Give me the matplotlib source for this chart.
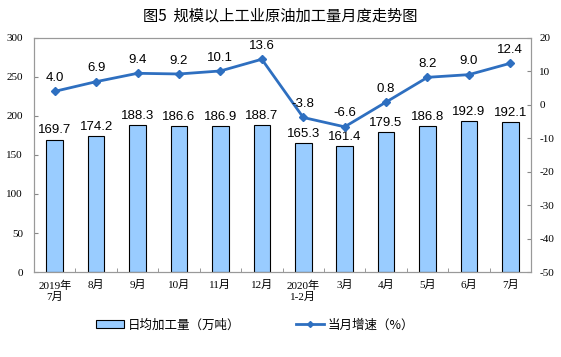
import matplotlib
matplotlib.use('Agg')
import matplotlib.pyplot as plt
import numpy as np
from matplotlib.patches import Patch
from matplotlib.lines import Line2D

plt.rcParams['font.family'] = ['Liberation Sans', 'Noto Sans CJK SC']

categories = ['2019年\n7月', '8月', '9月', '10月', '11月', '12月', '2020年\n1-2月',
              '3月', '4月', '5月', '6月', '7月']
daily_output = [169.7, 174.2, 188.3, 186.6, 186.9, 188.7, 165.3, 161.4, 179.5, 186.8, 192.9, 192.1]
growth = [4.0, 6.9, 9.4, 9.2, 10.1, 13.6, -3.8, -6.6, 0.8, 8.2, 9.0, 12.4]

serif = ['Liberation Serif', 'Noto Sans CJK SC']
x = np.arange(len(categories))

fig = plt.figure(figsize=(5.61, 3.57), dpi=100)
ax = fig.add_axes([0.0606, 0.238, 0.886, 0.656])
ax2 = ax.twinx()

ax.bar(x, daily_output, width=0.4, color='#99ccff', edgecolor='black', linewidth=0.8, zorder=2)
for xi, v in zip(x, daily_output):
    ax.text(xi, v + 4, f'{v:.1f}', ha='center', va='bottom', fontsize=9.5)

ax.set_xlim(-0.5, len(categories) - 0.5)
ax.set_ylim(0, 300)
ax.set_yticks(range(0, 301, 50))
ax.set_yticklabels([str(t) for t in range(0, 301, 50)], family=serif, fontsize=8)
ax.set_xticks(x)
ax.set_xticklabels(categories, family=serif, fontsize=8)
ax.set_xticks(np.arange(-0.5, len(categories), 1), minor=True)
ax.tick_params(axis='x', which='major', length=0, pad=6)
ax.tick_params(axis='x', which='minor', length=3, direction='in', color='#888888')
ax.tick_params(axis='y', length=3, direction='in', color='#888888', pad=8)

ax2.plot(x, growth, color='#2e6fc0', linewidth=2, marker='D', markersize=4.5, zorder=3)
for xi, v in zip(x, growth):
    ax2.text(xi, v + 2.2, f'{v:.1f}', ha='center', va='bottom', fontsize=9.5)
ax2.set_ylim(-50, 20)
ax2.set_yticks(range(-50, 21, 10))
ax2.set_yticklabels([str(t) for t in range(-50, 21, 10)], family=serif, fontsize=8)
ax2.tick_params(axis='y', length=3, direction='in', color='#888888', pad=6)

for a in (ax, ax2):
    for s in a.spines.values():
        s.set_color('#999999')
        s.set_linewidth(0.8)

fig.text(0.5, 0.955, '图5  规模以上工业原油加工量月度走势图', ha='center', va='center',
         fontsize=11, family=['Noto Sans CJK SC'])

handles = [Patch(facecolor='#99ccff', edgecolor='black', linewidth=0.8),
           Line2D([0], [0], color='#2e6fc0', linewidth=2, marker='D', markersize=3)]
fig.legend(handles, ['日均加工量（万吨）', '当月增速（%）'], loc='center', bbox_to_anchor=(0.455, 0.09),
           ncol=2, frameon=False, columnspacing=4.5, handlelength=2.2, handletextpad=0.3,
           prop={'family': ['Noto Sans CJK SC'], 'size': 9})

fig.savefig('out.png', dpi=100)
